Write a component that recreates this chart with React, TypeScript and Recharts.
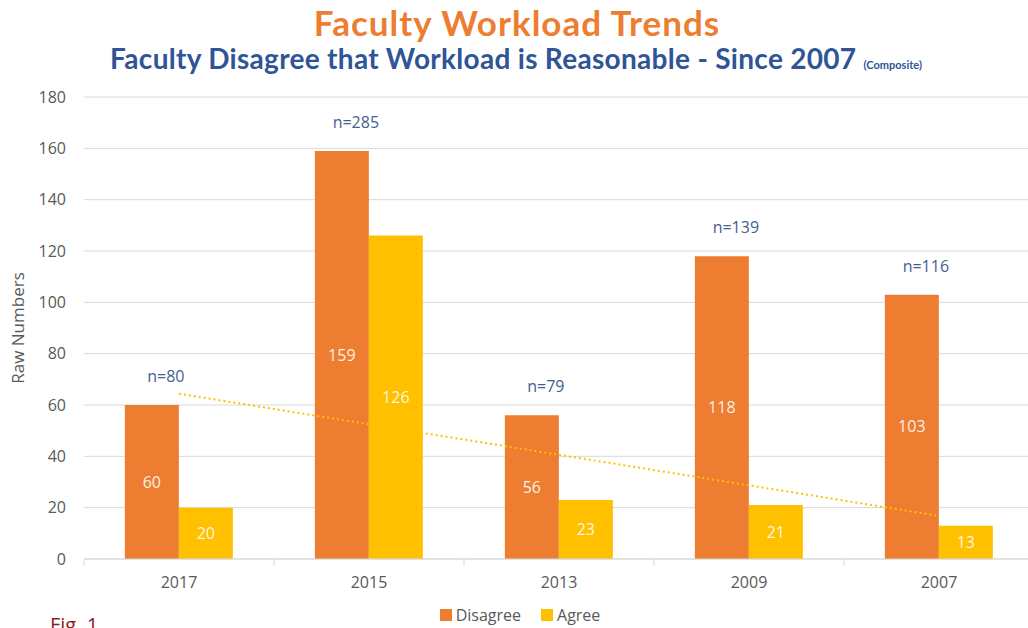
import React from 'react';
import { ComposedChart, Bar, Line, XAxis, YAxis, CartesianGrid, LabelList } from 'recharts';

const years = ['2017', '2015', '2013', '2009', '2007'];
const disagree = [60, 159, 56, 118, 103];
const agree = [20, 126, 23, 21, 13];
const respondents = [80, 285, 79, 139, 116];
const yTicks = [0, 20, 40, 60, 80, 100, 120, 140, 160, 180];

const seriesNames = ['Disagree', 'Agree'];
const ORANGE = '#ED7D31';
const YELLOW = '#FFC000';
const GRAY = '#595959';
const FONT = '"Open Sans", sans-serif';

// linear trendline over the Agree series (like Excel's)
const n = agree.length;
const meanX = (n - 1) / 2;
const meanY = agree.reduce((a, b) => a + b, 0) / n;
const slope =
    agree.reduce((s, v, i) => s + (i - meanX) * (v - meanY), 0) /
    agree.reduce((s, _v, i) => s + (i - meanX) * (i - meanX), 0);

const data = years.map((year, i) => ({
    year,
    disagree: disagree[i],
    agree: agree[i],
    n: respondents[i],
    trend: meanY + slope * (i - meanX),
}));

const CHART_W = 1040;
const CHART_H = 628;
const MARGIN = { top: 97, right: 6, bottom: 39, left: 0 };
const Y_AXIS_W = 84;
const BAND = (CHART_W - MARGIN.left - MARGIN.right - Y_AXIS_W) / years.length;

const XTick = (props: any) => {
    const { x, y, payload, index } = props;
    const left = x - BAND / 2;
    return (
        <g>
            <line x1={left} y1={y} x2={left} y2={y + 7} stroke="#D9D9D9" />
            {index === years.length - 1 && (
                <line x1={x + BAND / 2} y1={y} x2={x + BAND / 2} y2={y + 7} stroke="#D9D9D9" />
            )}
            <text x={x} y={y + 29} textAnchor="middle" fill={GRAY} fontSize={16} fontFamily={FONT}>
                {payload.value}
            </text>
        </g>
    );
};

const NLabel = (props: any) => {
    const { x, y, width, value } = props;
    return (
        <text x={x + width / 2 + 14} y={y - 23} textAnchor="middle" fill="#44618F" fontSize={16} fontFamily={FONT}>
            n={value}
        </text>
    );
};

const YLabel = () => (
    <text
        x={24}
        y={328}
        transform="rotate(-90 24 328)"
        textAnchor="middle"
        fill={GRAY}
        fontSize={17}
        fontFamily={FONT}
    >
        Raw Numbers
    </text>
);

const App: React.FC = () => {
    return (
        <div style={{ position: 'absolute', left: 0, top: 0, width: 1028, height: 628, overflow: 'hidden', background: '#fff' }}>
            <div
                style={{
                    position: 'absolute', top: 1, left: 0, width: 1034, textAlign: 'center',
                    fontFamily: 'Lato, sans-serif', fontWeight: 700, fontSize: 35, letterSpacing: 1, color: ORANGE,
                }}
            >
                Faculty Workload Trends
            </div>
            <div
                style={{
                    position: 'absolute', top: 41, left: 0, width: 1032, textAlign: 'center',
                    fontFamily: 'Lato, sans-serif', fontWeight: 700, fontSize: 28, letterSpacing: 0.3, color: '#2F5597',
                }}
            >
                Faculty Disagree that Workload is Reasonable - Since 2007{' '}
                <span style={{ fontSize: 11, letterSpacing: 0 }}>(Composite)</span>
            </div>

            <ComposedChart width={CHART_W} height={CHART_H} data={data} margin={MARGIN} barCategoryGap="21.5%" barGap={0}>
                <CartesianGrid vertical={false} stroke="#D9D9D9" />
                <XAxis
                    dataKey="year"
                    axisLine={{ stroke: '#D9D9D9' }}
                    tickLine={false}
                    tickSize={0}
                    tickMargin={0}
                    tick={<XTick />}
                    interval={0}
                />
                <YAxis
                    domain={[0, 180]}
                    ticks={yTicks}
                    width={Y_AXIS_W}
                    axisLine={false}
                    tickLine={false}
                    tickMargin={12}
                    tick={{ fill: GRAY, fontSize: 16, fontFamily: FONT }}
                    label={{ content: <YLabel /> }}
                />
                <Bar dataKey="disagree" name={seriesNames[0]} fill={ORANGE} isAnimationActive={false}>
                    <LabelList dataKey="disagree" position="center" fill="#FDEFE4" fontSize={16} fontFamily={FONT} />
                    <LabelList dataKey="n" content={<NLabel />} />
                </Bar>
                <Bar dataKey="agree" name={seriesNames[1]} fill={YELLOW} isAnimationActive={false}>
                    <LabelList dataKey="agree" position="center" fill="#FFF6DE" fontSize={16} fontFamily={FONT} />
                </Bar>
                <Line
                    dataKey="trend"
                    stroke={YELLOW}
                    strokeWidth={2}
                    strokeDasharray="2 3"
                    dot={false}
                    activeDot={false}
                    legendType="none"
                    isAnimationActive={false}
                />
            </ComposedChart>

            <div
                style={{
                    position: 'absolute', top: 606, left: 0, width: 1040, height: 18, lineHeight: '18px',
                    display: 'flex', justifyContent: 'center',
                    fontFamily: FONT, fontSize: 16, color: GRAY, gap: 20,
                }}
            >
                {seriesNames.map((name, i) => (
                    <div key={name} style={{ display: 'flex', alignItems: 'center' }}>
                        <span style={{ width: 12, height: 12, background: i === 0 ? ORANGE : YELLOW, marginRight: 4, display: 'inline-block' }} />
                        {name}
                    </div>
                ))}
            </div>

            <div
                style={{
                    position: 'absolute', top: 614, left: 50, lineHeight: '22px',
                    fontFamily: FONT, fontSize: 20, color: '#8B1C1C',
                }}
            >
                Fig. 1
            </div>
        </div>
    );
};

export default App;
